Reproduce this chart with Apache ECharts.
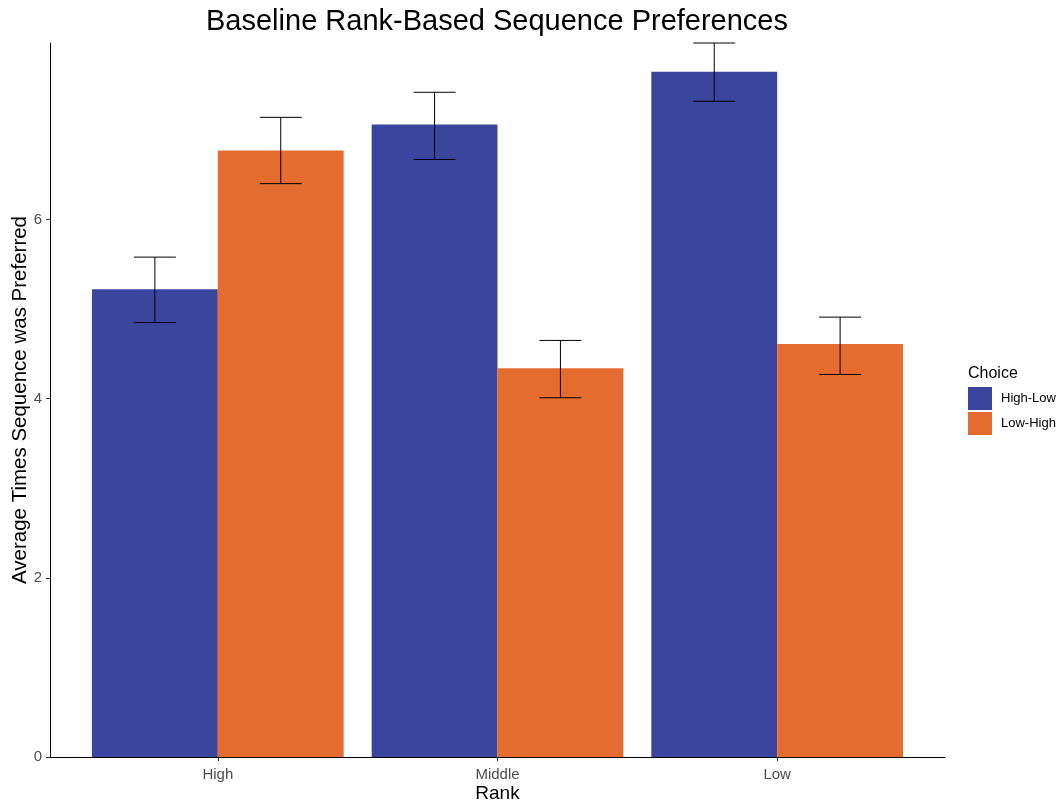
<!DOCTYPE html>
<html>
<head>
<meta charset="utf-8">
<script src="https://cdn.jsdelivr.net/npm/echarts@6/dist/echarts.min.js"></script>
<style>html,body{margin:0;padding:0;background:#fff;}#c{width:1062px;height:803px;}</style>
</head>
<body>
<div id="c"></div>
<script>
const categories = ['High', 'Middle', 'Low'];
const seriesNames = ['High-Low', 'Low-High'];
const hlMean  = [5.22, 7.06, 7.65];
const hlLower = [4.85, 6.67, 7.32];
const hlUpper = [5.58, 7.42, 7.97];
const lhMean  = [6.77, 4.34, 4.61];
const lhLower = [6.40, 4.01, 4.27];
const lhUpper = [7.14, 4.65, 4.91];
const yTicks = [0, 2, 4, 6];
const colors = ['#3A459E', '#E56C2F'];

const FONT = '"Liberation Sans", Arial, sans-serif';
const dodge = 0.225, halfBar = 0.225, capHalf = 0.075;

function makeSeries(idx, mean, lower, upper) {
  const data = categories.map((c, i) => [i, mean[i], lower[i], upper[i]]);
  const off = idx === 0 ? -dodge : dodge;
  return {
    type: 'custom',
    name: seriesNames[idx],
    itemStyle: { color: colors[idx] },
    data: data,
    encode: { x: 0, y: [1, 2, 3] },
    renderItem: function (params, api) {
      const xc = api.value(0) + off;
      const m = api.value(1), lo = api.value(2), hi = api.value(3);
      const p1 = api.coord([xc - halfBar, m]);
      const p2 = api.coord([xc + halfBar, 0]);
      const pHi = api.coord([xc, hi]);
      const pLo = api.coord([xc, lo]);
      const capL = api.coord([xc - capHalf, hi]);
      const capR = api.coord([xc + capHalf, hi]);
      const line = { stroke: '#000', lineWidth: 1 };
      return {
        type: 'group',
        children: [
          { type: 'rect', shape: { x: p1[0], y: p1[1], width: p2[0] - p1[0], height: p2[1] - p1[1] },
            style: { fill: colors[idx] } },
          { type: 'line', shape: { x1: pHi[0], y1: pHi[1], x2: pLo[0], y2: pLo[1] }, style: line },
          { type: 'line', shape: { x1: capL[0], y1: pHi[1], x2: capR[0], y2: pHi[1] }, style: line },
          { type: 'line', shape: { x1: capL[0], y1: pLo[1], x2: capR[0], y2: pLo[1] }, style: line }
        ]
      };
    }
  };
}

const chart = echarts.init(document.getElementById('c'), null, { renderer: 'canvas' });
chart.setOption({
  animation: false,
  backgroundColor: '#fff',
  title: {
    text: 'Baseline Rank-Based Sequence Preferences',
    left: 497, top: 7, textAlign: 'center', padding: 0,
    textStyle: { fontFamily: FONT, fontSize: 29, fontWeight: 'normal', color: '#000' }
  },
  grid: { left: 50, right: 117, top: 43, bottom: 46, containLabel: false, outerBoundsMode: 'none' },
  xAxis: {
    type: 'value', min: -0.6, max: 2.6,
    name: 'Rank', nameLocation: 'middle', nameGap: 27, nameMoveOverlap: false,
    nameTextStyle: { fontFamily: FONT, fontSize: 19, color: '#000' },
    axisLine: { show: true, onZero: false, lineStyle: { color: '#000', width: 1 } },
    axisTick: { show: true, length: 4, lineStyle: { color: '#333' }, customValues: [0, 1, 2] },
    axisLabel: { customValues: [0, 1, 2], formatter: v => categories[Math.round(v)] || '',
      fontFamily: FONT, fontSize: 15, color: '#4D4D4D', margin: 10 },
    splitLine: { show: false }
  },
  yAxis: {
    type: 'value', min: 0, max: 7.97,
    name: 'Average Times Sequence was Preferred', nameLocation: 'middle', nameGap: 19, nameMoveOverlap: false,
    nameTextStyle: { fontFamily: FONT, fontSize: 20.5, color: '#000' },
    axisLine: { show: true, onZero: false, lineStyle: { color: '#000', width: 1 } },
    axisTick: { show: true, length: 4, lineStyle: { color: '#333' }, customValues: yTicks },
    axisLabel: { customValues: yTicks, fontFamily: FONT, fontSize: 15, color: '#4D4D4D', margin: 8 },
    splitLine: { show: false }
  },
  legend: {
    orient: 'vertical', left: 968, top: 387,
    itemWidth: 24, itemHeight: 23, itemGap: 2,
    icon: 'rect',
    data: seriesNames,
    textStyle: { fontFamily: FONT, fontSize: 13, color: '#000', padding: [0, 0, 0, 4] },
    padding: 0
  },
  graphic: [{
    type: 'text', left: 968, top: 366,
    style: { text: 'Choice', font: '16px ' + FONT, fill: '#000' }
  }],
  series: [
    makeSeries(0, hlMean, hlLower, hlUpper),
    makeSeries(1, lhMean, lhLower, lhUpper)
  ]
});
</script>
</body>
</html>
